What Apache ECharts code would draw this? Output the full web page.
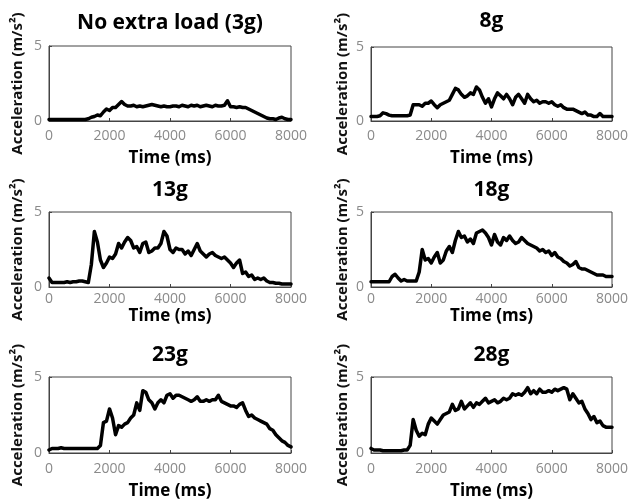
<!DOCTYPE html>
<html>
<head>
<meta charset="utf-8">
<script src="https://cdn.jsdelivr.net/npm/echarts@6/dist/echarts.min.js"></script>
<style>
html,body{margin:0;padding:0;background:#fff;}
#c{width:632px;height:503px;}
</style>
</head>
<body>
<div id="c"></div>
<script>
// ---- data ----
var timeMs = [0,100,200,300,400,500,600,700,800,900,
  1000,1100,1200,1300,1400,1500,1600,1700,1800,1900,
  2000,2100,2200,2300,2400,2500,2600,2700,2800,2900,
  3000,3100,3200,3300,3400,3500,3600,3700,3800,3900,
  4000,4100,4200,4300,4400,4500,4600,4700,4800,4900,
  5000,5100,5200,5300,5400,5500,5600,5700,5800,5900,
  6000,6100,6200,6300,6400,6500,6600,6700,6800,6900,
  7000,7100,7200,7300,7400,7500,7600,7700,7800,7900,
  8000];

var panelTitles = ['No extra load (3g)','8g','13g','18g','23g','28g'];
var xTicks = [0,2000,4000,6000,8000];
var yTicks = [0,5];

var load3 = [0.1,0.1,0.1,0.1,0.1,0.1,0.1,0.1,0.1,0.1,
  0.1,0.1,0.1,0.15,0.25,0.3,0.4,0.35,0.6,0.8,
  0.7,0.9,0.9,1.1,1.3,1.1,1.0,1.0,1.05,0.95,
  1.0,0.95,1.0,1.05,1.1,1.05,1.0,0.95,1.0,0.95,
  0.95,1.0,1.0,0.95,1.05,1.0,0.95,1.05,1.0,1.05,
  0.95,1.0,1.05,1.0,0.95,1.05,1.0,1.0,1.05,1.35,
  0.95,0.95,0.9,0.95,0.9,0.9,0.8,0.7,0.6,0.5,
  0.4,0.3,0.2,0.15,0.15,0.1,0.2,0.25,0.15,0.1,
  0.1];
var load8 = [0.3,0.3,0.3,0.35,0.55,0.5,0.4,0.35,0.35,0.35,
  0.35,0.35,0.35,0.4,1.1,1.1,1.1,1.0,1.2,1.2,
  1.35,1.1,0.9,1.1,1.2,1.3,1.4,1.8,2.2,2.1,
  1.8,1.6,1.7,1.9,1.8,2.3,2.1,1.6,1.2,1.5,
  0.95,1.5,1.9,1.7,1.5,1.8,1.5,1.1,1.6,1.8,
  1.5,1.2,1.8,1.5,1.3,1.4,1.2,1.3,1.3,1.2,
  1.3,1.1,1.0,1.1,0.9,0.8,0.8,0.8,0.7,0.6,
  0.5,0.6,0.4,0.4,0.3,0.3,0.5,0.3,0.3,0.3,
  0.3];
var load13 = [0.6,0.3,0.3,0.3,0.3,0.3,0.35,0.3,0.35,0.35,
  0.4,0.4,0.35,0.3,1.5,3.7,3.0,1.8,1.3,1.6,
  2.0,1.9,2.2,2.9,2.6,3.0,3.3,3.1,2.6,2.7,
  2.3,2.9,3.0,2.3,2.4,2.6,2.6,2.9,3.7,3.4,
  2.5,2.3,2.6,2.5,2.5,2.2,2.4,2.1,2.5,2.9,
  2.4,2.2,2.0,2.2,2.3,2.1,2.0,1.9,2.0,1.8,
  1.6,1.3,1.6,1.8,0.9,1.0,0.7,0.8,0.5,0.6,
  0.5,0.6,0.4,0.3,0.3,0.25,0.25,0.2,0.2,0.2,
  0.2];
var load18 = [0.35,0.35,0.35,0.35,0.35,0.35,0.35,0.7,0.85,0.6,
  0.4,0.5,0.4,0.4,0.4,0.4,1.0,2.5,1.8,1.9,
  1.6,2.0,2.3,1.6,1.8,2.4,2.7,2.3,3.1,3.7,
  3.3,3.4,3.0,3.2,2.9,3.6,3.7,3.8,3.6,3.3,
  2.8,3.5,3.0,2.8,3.3,3.1,3.4,3.1,2.9,3.0,
  3.3,3.1,2.9,2.8,2.7,2.6,2.4,2.5,2.3,2.4,
  2.1,2.3,2.0,1.9,1.7,1.6,1.4,1.5,1.7,1.3,
  1.2,1.2,1.1,1.0,0.9,0.8,0.8,0.8,0.7,0.7,
  0.7];
var load23 = [0.2,0.3,0.3,0.3,0.35,0.3,0.3,0.3,0.3,0.3,
  0.3,0.3,0.3,0.3,0.3,0.3,0.3,0.5,2.0,2.1,
  2.9,2.3,1.2,1.8,1.7,1.9,2.0,2.3,2.5,3.3,
  2.8,4.1,4.0,3.5,3.3,2.9,3.3,3.5,3.3,3.8,
  3.9,3.6,3.8,3.8,3.7,3.6,3.5,3.4,3.5,3.7,
  3.4,3.4,3.5,3.4,3.5,3.5,3.8,3.4,3.3,3.2,
  3.1,3.1,3.0,3.2,3.3,2.8,2.4,2.5,2.3,2.2,
  2.1,2.0,1.9,1.6,1.5,1.2,1.0,0.8,0.7,0.5,
  0.4];
var load28 = [0.3,0.2,0.2,0.2,0.15,0.15,0.15,0.15,0.15,0.15,
  0.15,0.2,0.2,0.5,2.2,1.5,1.1,1.3,1.2,1.9,
  2.3,2.1,1.9,2.2,2.5,2.6,2.7,3.2,2.8,2.9,
  3.4,2.9,3.1,3.3,3.0,3.3,3.2,3.4,3.6,3.3,
  3.4,3.5,3.3,3.4,3.6,3.5,3.6,3.9,3.8,3.9,
  3.8,4.0,4.3,3.9,4.1,3.9,4.2,4.0,4.0,4.1,
  4.0,4.2,4.1,4.2,4.3,4.2,3.5,3.9,3.6,3.3,
  3.4,2.9,2.6,2.2,2.4,2.0,2.1,1.8,1.7,1.7,
  1.7];

var seriesValues = [load3, load8, load13, load18, load23, load28];

// ---- layout ----
var layout = [
  {left:49, top:46, width:242, height:75, titleTop:13, lblMargin:8, nameGap:29, yGap:24},
  {left:371, top:47, width:241, height:74, titleTop:11, lblMargin:8, nameGap:29, yGap:21},
  {left:49, top:212, width:242, height:75, titleTop:180, lblMargin:5, nameGap:21, yGap:24},
  {left:371, top:212, width:241, height:75, titleTop:180, lblMargin:5, nameGap:21, yGap:21},
  {left:49, top:377, width:242, height:76, titleTop:345, lblMargin:9, nameGap:30, yGap:24},
  {left:371, top:377, width:241, height:76, titleTop:345, lblMargin:9, nameGap:30, yGap:21}
];

var FONT = "'Open Sans','Noto Sans',sans-serif";
var grids = [], xAxes = [], yAxes = [], series = [], titles = [];
var axisLineStyle = {color:'#444', width:1};

layout.forEach(function(L, i){
  grids.push({left:L.left, top:L.top, width:L.width, height:L.height, containLabel:false,
    show:true, borderColor:'#444', borderWidth:1, backgroundColor:'transparent'});
  titles.push({
    text: panelTitles[i],
    left: L.left + L.width/2,
    top: L.titleTop,
    textAlign: 'center',
    padding: 0,
    textStyle: {fontFamily: FONT, fontSize: 21, fontWeight: 'bold', color: '#000'}
  });
  xAxes.push({
    type:'value', gridIndex:i, min:xTicks[0], max:xTicks[xTicks.length-1], interval:2000,
    position:'bottom',
    splitLine:{show:false},
    axisLine:{show:true, onZero:false, lineStyle:axisLineStyle},
    axisTick:{show:true, inside:true, length:3, lineStyle:axisLineStyle},
    name:'Time (ms)', nameLocation:'middle', nameGap:L.nameGap,
    nameTextStyle:{fontFamily:FONT, fontSize:17, fontWeight:'bold', color:'#000'},
    axisLabel:{show:true, color:'#8a8a8a', fontSize:14, fontFamily:FONT, margin:L.lblMargin,
      formatter:function(v){ return String(v); }}
  });
  yAxes.push({
    type:'value', gridIndex:i, min:yTicks[0], max:yTicks[yTicks.length-1], interval:5,
    position:'left',
    splitLine:{show:false},
    axisLine:{show:true, onZero:false, lineStyle:axisLineStyle},
    axisTick:{show:true, inside:true, length:3, lineStyle:axisLineStyle},
    name:'Acceleration (m/s²)', nameLocation:'middle', nameGap:L.yGap,
    nameTextStyle:{fontFamily:FONT, fontSize:15, fontWeight:'bold', color:'#111'},
    axisLabel:{show:true, color:'#8a8a8a', fontSize:14, fontFamily:FONT, margin:7}
  });
  var vals = seriesValues[i];
  series.push({
    type:'line',
    xAxisIndex: i, yAxisIndex: i,
    data: timeMs.map(function(t, k){ return [t, vals[k]]; }),
    showSymbol:false, symbol:'none',
    lineStyle:{color:'#000', width:3.5, join:'round', cap:'round'},
    animation:false
  });
});

var chart = echarts.init(document.getElementById('c'), null, {renderer:'canvas'});
chart.setOption({
  backgroundColor:'#fff',
  animation:false,
  title: titles,
  grid: grids,
  xAxis: xAxes,
  yAxis: yAxes,
  series: series
});
</script>
</body>
</html>
